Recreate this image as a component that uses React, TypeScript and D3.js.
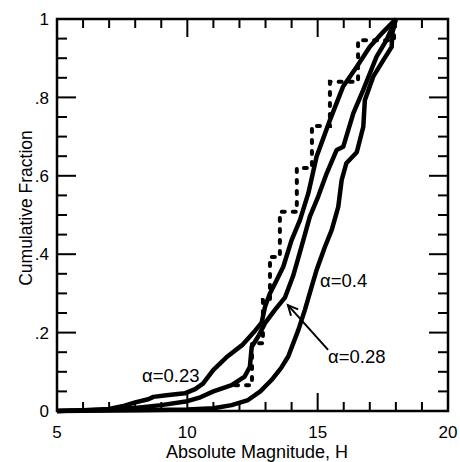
import React, { useEffect, useRef } from "react";
import * as d3 from "d3";

// cumulative distributions: [H, fraction]
const alpha023 = [
  [5.0, 0.0], [6.0, 0.002], [7.0, 0.005], [7.5, 0.012], [8.0, 0.022], [8.5, 0.03],
  [8.7, 0.036], [9.2, 0.04], [9.9, 0.045], [10.3, 0.056], [10.6, 0.07], [11.0, 0.105],
  [11.5, 0.137], [12.1, 0.168], [12.6, 0.205], [12.85, 0.225], [12.98, 0.266], [13.17, 0.3],
  [13.43, 0.334], [13.68, 0.368], [14.0, 0.436], [14.32, 0.487], [14.64, 0.555], [14.96, 0.649],
  [15.47, 0.742], [15.97, 0.827], [16.5, 0.878], [17.0, 0.929], [17.5, 0.966], [18.0, 1.0],
];

const alpha028 = [
  [5.0, 0.0], [7.0, 0.003], [8.0, 0.008], [9.0, 0.015], [10.0, 0.025], [10.5, 0.035],
  [11.0, 0.05], [11.7, 0.066], [12.2, 0.088], [12.4, 0.113], [12.47, 0.164], [12.72, 0.19],
  [12.98, 0.224], [13.36, 0.258], [13.75, 0.29], [14.06, 0.345], [14.2, 0.377], [14.45, 0.436],
  [14.7, 0.496], [15.02, 0.547], [15.35, 0.607], [15.73, 0.666], [15.98, 0.674], [16.37, 0.76],
  [16.75, 0.819], [17.0, 0.861], [17.26, 0.904], [17.64, 0.946], [18.0, 1.0],
];

const alpha04 = [
  [5.0, 0.0], [8.0, 0.002], [10.0, 0.004], [11.0, 0.007], [11.7, 0.015], [12.33, 0.028],
  [12.8, 0.05], [13.23, 0.079], [13.6, 0.11], [13.87, 0.139], [14.26, 0.207], [14.51, 0.258],
  [14.77, 0.317], [14.96, 0.36], [15.28, 0.419], [15.54, 0.462], [15.79, 0.521], [15.92, 0.589],
  [16.1, 0.632], [16.5, 0.66], [16.75, 0.725], [16.81, 0.793], [17.13, 0.853], [17.52, 0.895],
  [17.84, 0.929], [17.86, 0.963], [18.0, 1.0],
];

// dotted step curve (step starts)
const dottedSteps = [
  [11.83, 0.066], [12.48, 0.173], [12.9, 0.283], [13.17, 0.393], [13.55, 0.508],
  [14.2, 0.62], [14.78, 0.727], [15.47, 0.84], [16.55, 0.946], [17.93, 1.0],
];

const xMajor = [5, 10, 15, 20];
const xMinor = d3.range(5, 21, 1);
const yMajor = [0, 0.2, 0.4, 0.6, 0.8, 1];
const yMinor = d3.range(0, 1.0001, 0.05);
const yTickLabels = ["0", ".2", ".4", ".6", ".8", "1"];

// annotations in data units
const labels = [
  { text: "\u03b1=0.23", h: 8.26, f: 0.074 },
  { text: "\u03b1=0.4", h: 15.09, f: 0.316 },
  { text: "\u03b1=0.28", h: 15.4, f: 0.122 },
];
const arrowFrom = [15.4, 0.156];
const arrowTo = [13.86, 0.27];

export default function App() {
  const ref = useRef(null);

  useEffect(() => {
    const svg = d3.select(ref.current);
    svg.selectAll("*").remove();

    const left = 57, right = 448, top = 19, bottom = 411;
    const x = d3.scaleLinear().domain([5, 20]).range([left, right]);
    const y = d3.scaleLinear().domain([0, 1]).range([bottom, top]);
    const font = "'Liberation Sans', Arial, Helvetica, sans-serif";

    const g = svg.append("g");

    // ticks, all four sides, inward
    const tickG = g.append("g").attr("stroke", "#000").attr("stroke-width", 2);
    xMinor.forEach((v) => {
      const len = xMajor.includes(v) ? 18 : 9;
      tickG.append("line").attr("x1", x(v)).attr("x2", x(v)).attr("y1", bottom).attr("y2", bottom - len);
      tickG.append("line").attr("x1", x(v)).attr("x2", x(v)).attr("y1", top).attr("y2", top + len);
    });
    yMinor.forEach((v) => {
      const major = yMajor.some((m) => Math.abs(m - v) < 1e-6);
      const len = major ? 19 : 10;
      tickG.append("line").attr("x1", left).attr("x2", left + len).attr("y1", y(v)).attr("y2", y(v));
      tickG.append("line").attr("x1", right).attr("x2", right - len).attr("y1", y(v)).attr("y2", y(v));
    });

    // frame
    g.append("rect")
      .attr("x", left).attr("y", top)
      .attr("width", right - left).attr("height", bottom - top)
      .attr("fill", "none").attr("stroke", "#000").attr("stroke-width", 2.5);

    // tick labels
    g.selectAll(".xl").data(xMajor).enter().append("text")
      .attr("x", (d) => x(d)).attr("y", 438)
      .attr("text-anchor", "middle")
      .style("font-family", font).style("font-size", "17px")
      .text((d) => String(d));

    g.selectAll(".yl").data(yMajor).enter().append("text")
      .attr("x", 49).attr("y", (d) => y(d)).attr("dy", "0.36em")
      .attr("text-anchor", "end")
      .style("font-family", font).style("font-size", "17px")
      .text((d, i) => yTickLabels[i]);

    // axis titles
    g.append("text")
      .attr("x", 257).attr("y", 458)
      .attr("text-anchor", "middle")
      .style("font-family", font).style("font-size", "18px")
      .text("Absolute Magnitude, H");

    g.append("text")
      .attr("transform", `translate(32,${(top + bottom) / 2 - 7}) rotate(-90)`)
      .attr("text-anchor", "middle")
      .style("font-family", font).style("font-size", "17.5px")
      .text("Cumulative Fraction");

    // curves
    const line = d3.line().x((d) => x(d[0])).y((d) => y(d[1]));
    [alpha023, alpha028, alpha04].forEach((data) => {
      g.append("path")
        .attr("d", line(data))
        .attr("fill", "none").attr("stroke", "#000")
        .attr("stroke-width", 4.5).attr("stroke-linejoin", "round");
    });

    const stepLine = d3.line().x((d) => x(d[0])).y((d) => y(d[1])).curve(d3.curveStepAfter);
    g.append("path")
      .attr("d", stepLine(dottedSteps))
      .attr("fill", "none").attr("stroke", "#000")
      .attr("stroke-width", 4).attr("stroke-linecap", "round")
      .attr("stroke-dasharray", "3 8");

    // labels
    g.selectAll(".al").data(labels).enter().append("text")
      .attr("x", (d) => x(d.h)).attr("y", (d) => y(d.f))
      .style("font-family", font).style("font-size", "18.5px")
      .text((d) => d.text);

    // arrow
    const x1 = x(arrowFrom[0]), y1 = y(arrowFrom[1]);
    const x2 = x(arrowTo[0]), y2 = y(arrowTo[1]);
    g.append("line")
      .attr("x1", x1).attr("y1", y1).attr("x2", x2).attr("y2", y2)
      .attr("stroke", "#000").attr("stroke-width", 2);
    const ang = Math.atan2(y1 - y2, x1 - x2);
    const hl = 11, spread = 0.45;
    const head = [
      [x2 + hl * Math.cos(ang - spread), y2 + hl * Math.sin(ang - spread)],
      [x2, y2],
      [x2 + hl * Math.cos(ang + spread), y2 + hl * Math.sin(ang + spread)],
    ];
    g.append("path")
      .attr("d", d3.line()(head))
      .attr("fill", "none").attr("stroke", "#000").attr("stroke-width", 2);
  }, []);

  return (
    <svg
      ref={ref}
      width={460}
      height={462}
      style={{ position: "absolute", left: 0, top: 0, background: "#fff" }}
    />
  );
}
